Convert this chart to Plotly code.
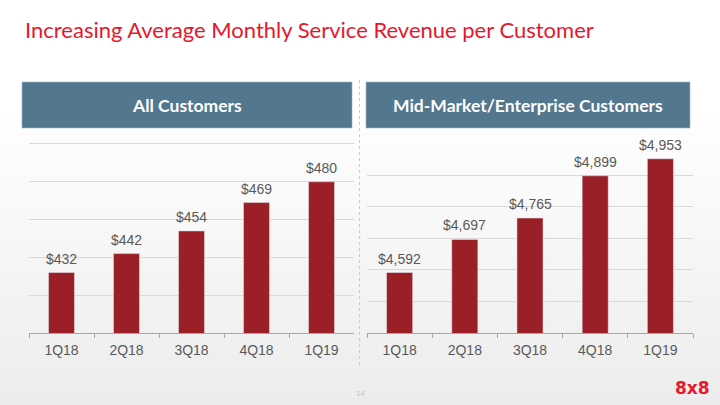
import plotly.graph_objects as go

# ---- data ----
quarters = ["1Q18", "2Q18", "3Q18", "4Q18", "1Q19"]
all_customers = [432, 442, 454, 469, 480]
mid_enterprise = [4592, 4697, 4765, 4899, 4953]
all_labels = ["$432", "$442", "$454", "$469", "$480"]
mid_labels = ["$4,592", "$4,697", "$4,765", "$4,899", "$4,953"]

title_text = "Increasing Average Monthly Service Revenue per Customer"
left_header = "All Customers"
right_header = "Mid-Market/Enterprise Customers"

W, H = 720, 405
BAR = "#9b1f26"
LBL = "#595959"


def px_x(x):
    return x / W


def px_y(y):
    return 1 - y / H


fig = go.Figure()
fig.add_trace(go.Bar(x=quarters, y=all_customers, marker_color=BAR, width=0.4,
                     xaxis="x", yaxis="y", hoverinfo="skip"))
fig.add_trace(go.Bar(x=quarters, y=mid_enterprise, marker_color=BAR, width=0.4,
                     xaxis="x2", yaxis="y2", hoverinfo="skip"))

annotations = []
for q, v, t in zip(quarters, all_customers, all_labels):
    annotations.append(dict(x=q, y=v, xref="x", yref="y", text=t, showarrow=False,
                            xanchor="center", yanchor="bottom", yshift=4,
                            font=dict(family="Liberation Sans, Arial", size=14, color=LBL)))
for q, v, t in zip(quarters, mid_enterprise, mid_labels):
    annotations.append(dict(x=q, y=v, xref="x2", yref="y2", text=t, showarrow=False,
                            xanchor="center", yanchor="bottom", yshift=4,
                            font=dict(family="Liberation Sans, Arial", size=14, color=LBL)))


def paper_text(x, y, text, font, xanchor="center"):
    return dict(x=px_x(x), y=px_y(y), xref="paper", yref="paper", text=text,
                showarrow=False, xanchor=xanchor, yanchor="middle", font=font)


# title
annotations.append(paper_text(23, 29, title_text,
                              dict(family="Lato", size=22, color="#e8172c"), xanchor="left"))
# headers
annotations.append(paper_text(187, 105, "<b>" + left_header + "</b>",
                              dict(family="Lato", size=17.5, color="white")))
annotations.append(paper_text(528, 105, "<b>" + right_header + "</b>",
                              dict(family="Lato", size=17.5, color="white")))
# page number and logo
annotations.append(paper_text(360, 393, "14",
                              dict(family="Liberation Sans", size=8, color="#c4c4c4")))
annotations.append(paper_text(712, 388, "<b>8x8</b>",
                              dict(family="DejaVu Sans", size=17, color="#e8172c"), xanchor="right"))

shapes = []
# background gradient
n = 40
y0px, y1px = 110, H
for i in range(n):
    a = y0px + (y1px - y0px) * i / n
    b = y0px + (y1px - y0px) * (i + 1) / n
    t = (i + 0.5) / n
    c = int(round(255 - 19 * t))
    shapes.append(dict(type="rect", xref="paper", yref="paper", x0=0, x1=1,
                       y0=px_y(b + 0.5), y1=px_y(a), line=dict(width=0),
                       fillcolor=f"rgb({c},{c},{c})", layer="below"))
# header boxes
for x0, x1 in [(22, 352), (366, 690)]:
    shapes.append(dict(type="rect", xref="paper", yref="paper", x0=px_x(x0), x1=px_x(x1),
                       y0=px_y(128), y1=px_y(82), fillcolor="#52778f",
                       line=dict(color="#9fb5c4", width=0.6), layer="below"))
# dotted separator
shapes.append(dict(type="line", xref="paper", yref="paper", x0=px_x(359.5), x1=px_x(359.5),
                   y0=px_y(80), y1=px_y(368), line=dict(color="#c9c9c9", width=1, dash="dot")))

axis_x = dict(type="category", showline=True, linecolor="#a6a6a6", linewidth=1,
              ticks="outside", ticklen=4, tickcolor="#a6a6a6", tickson="boundaries",
              ticklabelstandoff=4,
              showgrid=False, tickfont=dict(family="Liberation Sans, Arial", size=14, color=LBL),
              fixedrange=True)
axis_y = dict(showticklabels=False, showgrid=True, gridcolor="#d9d9d9", gridwidth=1,
              zeroline=False, showline=False, ticks="", fixedrange=True)

# small headroom so the top gridline is drawn
top_l = 144 - 0.6 * (333 - 144) / 100
top_r = 144 - 3 * (333 - 144) / 600

fig.update_layout(
    width=W, height=H, margin=dict(l=0, r=0, t=0, b=0),
    paper_bgcolor="white", plot_bgcolor="rgba(0,0,0,0)",
    showlegend=False, bargap=0.6,
    xaxis=dict(axis_x, domain=[px_x(29), px_x(354)], anchor="y"),
    yaxis=dict(axis_y, domain=[px_y(333), px_y(top_l)], range=[400, 500.6], dtick=20,
               tick0=400, anchor="x"),
    xaxis2=dict(axis_x, domain=[px_x(367), px_x(693)], anchor="y2"),
    yaxis2=dict(axis_y, domain=[px_y(333), px_y(top_r)], range=[4400, 5003], dtick=100,
                tick0=4400, anchor="x2"),
    annotations=annotations, shapes=shapes,
)

fig.write_html("out.html")
